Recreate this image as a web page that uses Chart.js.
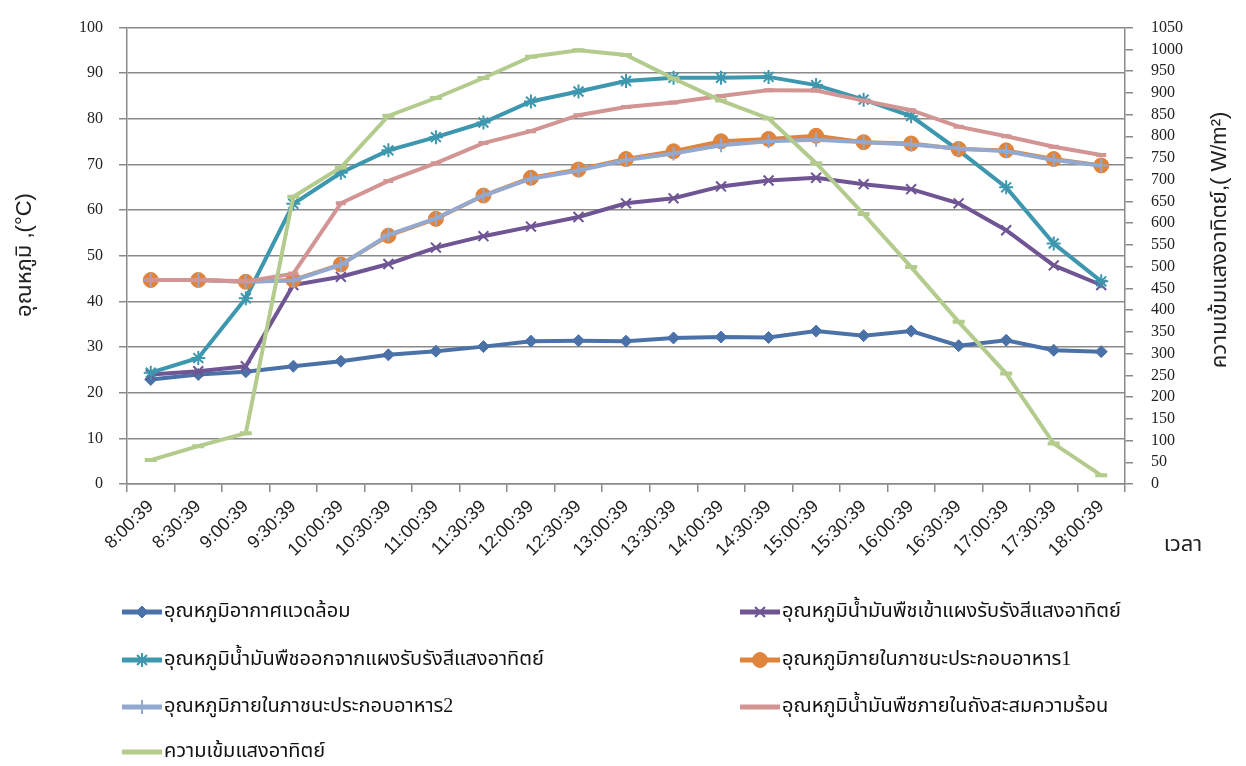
<!DOCTYPE html>
<html>
<head>
<meta charset="utf-8">
<title>Temperature and solar intensity</title>
<script src="https://cdn.jsdelivr.net/npm/chart.js@4"></script>
<style>
    body { margin: 0; background: #fff; }
    .chart-box { position: relative; width: 1246px; height: 766px; }
</style>
</head>
<body>
<div class="chart-box"><canvas id="tempChart"></canvas></div>
<script>
// Time of reading
const times = ['8:00:39', '8:30:39', '9:00:39', '9:30:39', '10:00:39', '10:30:39', '11:00:39',
    '11:30:39', '12:00:39', '12:30:39', '13:00:39', '13:30:39', '14:00:39', '14:30:39',
    '15:00:39', '15:30:39', '16:00:39', '16:30:39', '17:00:39', '17:30:39', '18:00:39'];

// Temperatures (°C)
const ambient = [22.9, 24.0, 24.6, 25.8, 26.9, 28.3, 29.1, 30.1, 31.3, 31.4, 31.3, 32.0, 32.2, 32.1, 33.5, 32.5, 33.5, 30.3, 31.5, 29.3, 29.0];
const oilIn = [24.0, 24.7, 25.8, 43.6, 45.4, 48.2, 51.8, 54.3, 56.4, 58.5, 61.5, 62.6, 65.2, 66.5, 67.1, 65.7, 64.6, 61.5, 55.6, 47.9, 43.6];
const oilOut = [24.4, 27.6, 40.7, 61.4, 68.2, 73.1, 76.0, 79.2, 83.8, 86.0, 88.3, 89.0, 89.0, 89.2, 87.4, 84.2, 80.6, 73.1, 65.0, 52.7, 44.4];
const food1 = [44.7, 44.7, 44.3, 44.7, 48.1, 54.4, 58.1, 63.2, 67.1, 68.9, 71.2, 72.9, 75.1, 75.6, 76.3, 74.9, 74.6, 73.4, 73.1, 71.2, 69.8];
const food2 = [44.7, 44.7, 44.3, 44.6, 48.0, 54.6, 58.2, 63.2, 66.9, 68.7, 71.0, 72.4, 74.2, 75.1, 75.4, 74.9, 74.4, 73.5, 72.9, 71.0, 69.8];
const tank = [44.7, 44.7, 44.4, 46.1, 61.5, 66.4, 70.3, 74.7, 77.3, 80.8, 82.6, 83.6, 85.0, 86.3, 86.2, 84.0, 81.9, 78.3, 76.2, 73.9, 72.1];

// Solar intensity (W/m2), right axis
const solar = [55, 87, 117, 661, 728, 847, 888, 934, 983, 998, 987, 933, 882, 841, 738, 621, 499, 373, 254, 93, 20];

const seriesNames = [
    'อุณหภูมิอากาศแวดล้อม',
    'อุณหภูมิน้ำมันพืชเข้าแผงรับรังสีแสงอาทิตย์',
    'อุณหภูมิน้ำมันพืชออกจากแผงรับรังสีแสงอาทิตย์',
    'อุณหภูมิภายในภาชนะประกอบอาหาร1',
    'อุณหภูมิภายในภาชนะประกอบอาหาร2',
    'อุณหภูมิน้ำมันพืชภายในถังสะสมความร้อน',
    'ความเข้มแสงอาทิตย์'
];

const leftTitle = 'อุณหภูมิ ,(°C)';
const rightTitle = 'ความเข้มแสงอาทิตย์,( W/m²)';
const xTitle = 'เวลา';

const gridColor = '#8a8a8a';
const thaiFont = "'Liberation Serif', 'Noto Sans Thai', 'Noto Sans', serif";
const sansFont = "'Liberation Sans', 'Noto Sans Thai', 'Noto Sans', sans-serif";
const numFont = { family: "'Liberation Serif', serif", size: 16 };

function makeSeries(i, data, color, style, radius, axis) {
    return {
        label: seriesNames[i],
        data: data,
        yAxisID: axis || 'y',
        borderColor: color,
        backgroundColor: color,
        borderWidth: 4,
        pointStyle: style,
        pointRadius: radius,
        pointBorderWidth: style === 'rectRot' || style === 'circle' ? 1 : (style === 'line' ? 4 : 2),
        pointBackgroundColor: color,
        pointBorderColor: color,
        tension: 0,
        order: 6 - i // later series on top, like the original
    };
}

// Axis titles + two-column legend drawn on the canvas
const extras = {
    id: 'extras',
    afterDraw(chart) {
        const ctx = chart.ctx;
        ctx.save();
        ctx.fillStyle = '#222';
        ctx.textAlign = 'center';
        ctx.textBaseline = 'middle';
        ctx.font = '22px ' + sansFont;

        ctx.save();
        ctx.translate(25, 255);
        ctx.rotate(-Math.PI / 2);
        ctx.fillText(leftTitle, 0, 0);
        ctx.restore();

        ctx.save();
        ctx.translate(1220, 240);
        ctx.rotate(-Math.PI / 2);
        ctx.fillText(rightTitle, 0, 0);
        ctx.restore();

        ctx.fillText(xTitle, 1183, 545);

        // legend
        const cols = [122, 740];
        const rows = [612, 660, 707, 752];
        ctx.textAlign = 'left';
        ctx.font = '20px ' + thaiFont;
        chart.data.datasets.forEach((ds, i) => {
            const x = cols[i % 2];
            const y = rows[Math.floor(i / 2)];
            ctx.strokeStyle = ds.borderColor;
            ctx.fillStyle = ds.borderColor;
            ctx.lineWidth = 5;
            ctx.beginPath();
            ctx.moveTo(x, y);
            ctx.lineTo(x + 40, y);
            ctx.stroke();
            if (ds.pointStyle !== 'line' && Chart.helpers && Chart.helpers.drawPoint) {
                ctx.lineWidth = ds.pointBorderWidth;
                Chart.helpers.drawPoint(ctx, {
                    pointStyle: ds.pointStyle,
                    radius: ds.pointRadius,
                    borderWidth: ds.pointBorderWidth,
                    rotation: 0
                }, x + 20, y);
            }
            ctx.fillStyle = '#111';
            ctx.fillText(ds.label, x + 42, y);
        });
        ctx.restore();
    }
};

const ctx = document.getElementById('tempChart').getContext('2d');
new Chart(ctx, {
    type: 'line',
    data: {
        labels: times,
        datasets: [
            makeSeries(0, ambient, '#4a72a8', 'rectRot', 6),
            makeSeries(1, oilIn, '#6f5593', 'crossRot', 7),
            makeSeries(2, oilOut, '#3d97ae', 'star', 7),
            makeSeries(3, food1, '#e0843b', 'circle', 7.5),
            makeSeries(4, food2, '#93a9d0', 'cross', 7),
            makeSeries(5, tank, '#d29593', 'line', 5),
            makeSeries(6, solar, '#b4cb8e', 'line', 6, 'y2')
        ]
    },
    options: {
        responsive: true,
        maintainAspectRatio: false,
        animation: false,
        layout: { padding: { top: 16, left: 0, right: 0, bottom: 0 } },
        plugins: {
            legend: { display: false },
            tooltip: { enabled: false }
        },
        scales: {
            x: {
                offset: true,
                grid: {
                    offset: true,
                    drawOnChartArea: false,
                    color: gridColor,
                    tickLength: 8,
                    lineWidth: 1.5
                },
                border: { color: gridColor, width: 1.5 },
                ticks: {
                    autoSkip: false,
                    maxRotation: 45,
                    minRotation: 45,
                    padding: 4,
                    color: '#222',
                    font: { family: sansFont, size: 18 }
                },
                afterFit: s => { s.height = 282; }
            },
            y: {
                position: 'left',
                min: 0,
                max: 100,
                ticks: {
                    stepSize: 10,
                    padding: 16,
                    color: '#222',
                    font: numFont
                },
                grid: { color: gridColor, tickLength: 8, lineWidth: 1.5 },
                border: { color: gridColor, width: 1.5 },
                afterFit: s => { s.width = 127; }
            },
            y2: {
                position: 'right',
                min: 0,
                max: 1050,
                ticks: {
                    stepSize: 50,
                    autoSkip: false,
                    padding: 18,
                    color: '#222',
                    font: numFont,
                    callback: v => String(v)
                },
                grid: { drawOnChartArea: false, color: gridColor, tickLength: 8, lineWidth: 1.5 },
                border: { color: gridColor, width: 1.5 },
                afterFit: s => { s.width = 121; }
            }
        }
    },
    plugins: [extras]
});
</script>
</body>
</html>
